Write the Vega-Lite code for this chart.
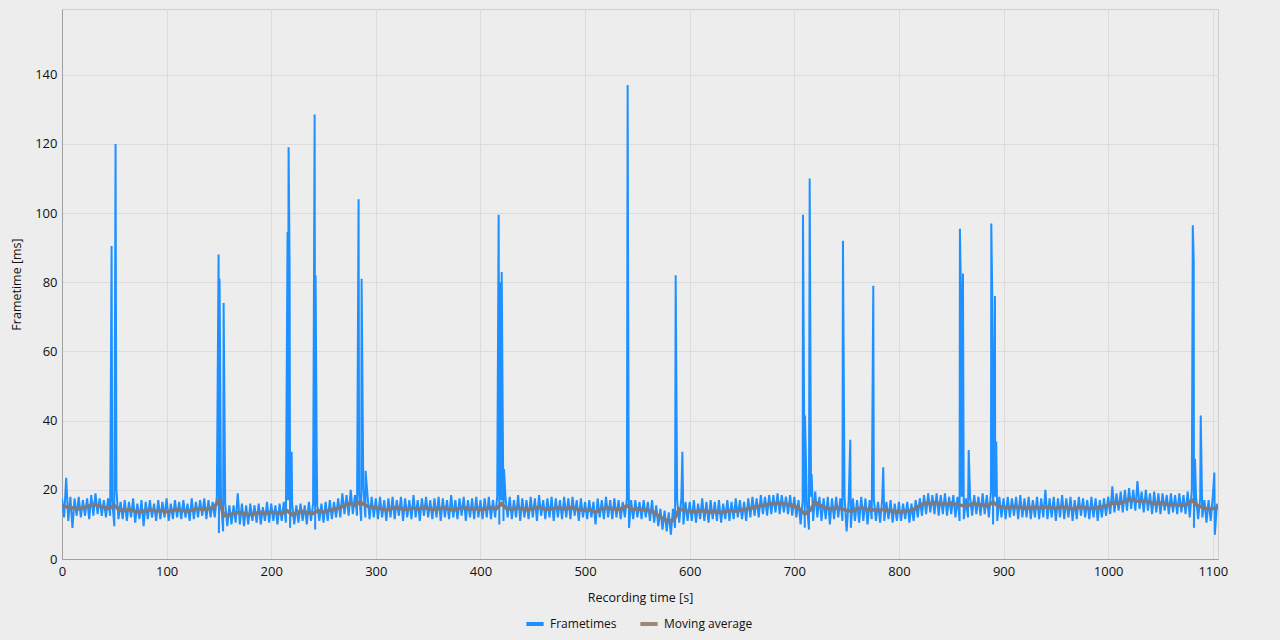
{
"$schema": "https://vega.github.io/schema/vega-lite/v6.json",
"width": 1156, "height": 550,
"autosize": {"type": "none"},
"padding": {"left": 62, "top": 9, "right": 62, "bottom": 81},
"background": "#ededed",
"config": {"font": "Open Sans", "view": {"stroke": "#cfcfcf", "fill": "#ededed"},
 "axis": {"gridColor": "#dcdcdc", "domainColor": "#a0a0a0", "tickSize": 0, "labelFontSize": 13, "labelColor": "#111111", "titleFontSize": 12.5, "titleFontWeight": "normal", "titleColor": "#111111"}},
"datasets": {
"ft": [
{"t":0,"v":17.5},{"t":2,"v":12},{"t":4,"v":23.5},{"t":6,"v":11},{"t":8,"v":18},{"t":10,"v":9},{"t":12,"v":17.5},{"t":14,"v":12.5},{"t":16,"v":18},{"t":18,"v":12},
{"t":20,"v":17},{"t":22,"v":12.5},{"t":24,"v":17.5},{"t":26,"v":11.5},{"t":28,"v":18.5},{"t":30,"v":12.5},{"t":32,"v":19},{"t":34,"v":13},{"t":36,"v":17.5},{"t":38,"v":12.5},
{"t":40,"v":17},{"t":42,"v":12},{"t":44,"v":17.5},{"t":46,"v":12.5},{"t":47.4,"v":90.5},{"t":48,"v":17},{"t":50,"v":9.5},{"t":51.2,"v":120},{"t":52,"v":20},{"t":54,"v":11.5},
{"t":56,"v":16.5},{"t":58,"v":11.5},{"t":60,"v":17},{"t":62,"v":11},{"t":64,"v":16.5},{"t":66,"v":12},{"t":68,"v":17.5},{"t":70,"v":10.5},{"t":72,"v":16},{"t":74,"v":11.5},
{"t":76,"v":17},{"t":78,"v":9.5},{"t":80,"v":16.5},{"t":82,"v":11.5},{"t":84,"v":17},{"t":86,"v":12},{"t":88,"v":16},{"t":90,"v":11},{"t":92,"v":17},{"t":94,"v":11.5},
{"t":96,"v":16.5},{"t":98,"v":12},{"t":100,"v":17.5},{"t":102,"v":11},{"t":104,"v":16},{"t":106,"v":11.5},{"t":108,"v":17},{"t":110,"v":12},{"t":112,"v":16.5},{"t":114,"v":11.5},
{"t":116,"v":17},{"t":118,"v":12},{"t":120,"v":16},{"t":122,"v":11},{"t":124,"v":17.5},{"t":126,"v":11.5},{"t":128,"v":16.5},{"t":130,"v":12},{"t":132,"v":17},{"t":134,"v":12.5},
{"t":136,"v":17.5},{"t":138,"v":11.5},{"t":140,"v":17},{"t":142,"v":12},{"t":144,"v":16.5},{"t":146,"v":12},{"t":148,"v":18},{"t":149.7,"v":88},{"t":150,"v":7.5},{"t":150.6,"v":81},
{"t":152,"v":17},{"t":154,"v":8},{"t":154.5,"v":74},{"t":156,"v":16},{"t":158,"v":9.5},{"t":160,"v":15.5},{"t":162,"v":10},{"t":164,"v":15.5},{"t":166,"v":10.5},{"t":168,"v":19},
{"t":170,"v":10},{"t":172,"v":16},{"t":174,"v":9.5},{"t":176,"v":15.5},{"t":178,"v":10},{"t":180,"v":16},{"t":182,"v":11},{"t":184,"v":15.5},{"t":186,"v":10.5},{"t":188,"v":16},
{"t":190,"v":10},{"t":192,"v":15},{"t":194,"v":11},{"t":196,"v":16.5},{"t":198,"v":10.5},{"t":200,"v":16},{"t":202,"v":11},{"t":204,"v":15.5},{"t":206,"v":10},{"t":208,"v":16},
{"t":210,"v":11},{"t":212,"v":16.5},{"t":214,"v":10.5},{"t":215.6,"v":94.5},{"t":216,"v":17},{"t":216.6,"v":119},{"t":217.6,"v":83},{"t":218,"v":9},{"t":219.5,"v":31},{"t":220,"v":16},
{"t":222,"v":10},{"t":224,"v":15.5},{"t":226,"v":10.5},{"t":228,"v":16},{"t":230,"v":11},{"t":232,"v":15.5},{"t":234,"v":10},{"t":236,"v":16.5},{"t":238,"v":11},{"t":240,"v":16},
{"t":241.5,"v":128.5},{"t":242,"v":8.5},{"t":242.4,"v":82},{"t":243.5,"v":29},{"t":244,"v":15.5},{"t":246,"v":11},{"t":248,"v":16},{"t":250,"v":10.5},{"t":252,"v":16.5},{"t":254,"v":11},
{"t":256,"v":17},{"t":258,"v":11.5},{"t":260,"v":16.5},{"t":262,"v":12},{"t":264,"v":17.5},{"t":266,"v":12},{"t":268,"v":19},{"t":270,"v":13},{"t":272,"v":18.5},{"t":274,"v":12.5},
{"t":276,"v":20},{"t":278,"v":13},{"t":280,"v":18.5},{"t":282,"v":12.5},{"t":283.5,"v":104},{"t":284,"v":19},{"t":286,"v":11},{"t":286.4,"v":81},{"t":288,"v":20.5},{"t":290,"v":12},
{"t":290.2,"v":25.5},{"t":292,"v":18.5},{"t":294,"v":11.5},{"t":296,"v":18},{"t":298,"v":12},{"t":300,"v":17.5},{"t":302,"v":11.5},{"t":304,"v":18},{"t":306,"v":12},{"t":308,"v":17},
{"t":310,"v":11},{"t":312,"v":17.5},{"t":314,"v":12},{"t":316,"v":18},{"t":318,"v":11.5},{"t":320,"v":17},{"t":322,"v":12.5},{"t":324,"v":18},{"t":326,"v":11},{"t":328,"v":17.5},
{"t":330,"v":12},{"t":332,"v":17},{"t":334,"v":11.5},{"t":336,"v":18.5},{"t":338,"v":12},{"t":340,"v":17},{"t":342,"v":11},{"t":344,"v":17.5},{"t":346,"v":12.5},{"t":348,"v":18},
{"t":350,"v":12},{"t":352,"v":17},{"t":354,"v":11.5},{"t":356,"v":17.5},{"t":358,"v":12},{"t":360,"v":18},{"t":362,"v":11},{"t":364,"v":17.5},{"t":366,"v":12},{"t":368,"v":17},
{"t":370,"v":11.5},{"t":372,"v":18.5},{"t":374,"v":12},{"t":376,"v":17},{"t":378,"v":11.5},{"t":380,"v":17.5},{"t":382,"v":12.5},{"t":384,"v":18},{"t":386,"v":11},{"t":388,"v":17},
{"t":390,"v":12},{"t":392,"v":17.5},{"t":394,"v":11.5},{"t":396,"v":18},{"t":398,"v":12},{"t":400,"v":17},{"t":402,"v":11.5},{"t":404,"v":17.5},{"t":406,"v":12},{"t":408,"v":18},
{"t":410,"v":11.5},{"t":412,"v":17},{"t":414,"v":12},{"t":416,"v":18},{"t":417.4,"v":99.5},{"t":418,"v":10},{"t":418.4,"v":80},{"t":420,"v":17},{"t":420.3,"v":83},{"t":422,"v":11},
{"t":422.5,"v":26},{"t":424,"v":17.5},{"t":426,"v":12},{"t":428,"v":18},{"t":430,"v":11.5},{"t":432,"v":17},{"t":434,"v":12},{"t":436,"v":18.5},{"t":438,"v":11},{"t":440,"v":17.5},
{"t":442,"v":12},{"t":444,"v":17},{"t":446,"v":11.5},{"t":448,"v":18},{"t":450,"v":12},{"t":452,"v":17.5},{"t":454,"v":11},{"t":456,"v":18.5},{"t":458,"v":12.5},{"t":460,"v":17},
{"t":462,"v":11.5},{"t":464,"v":17.5},{"t":466,"v":12},{"t":468,"v":18},{"t":470,"v":11},{"t":472,"v":17.5},{"t":474,"v":12},{"t":476,"v":17},{"t":478,"v":11.5},{"t":480,"v":18},
{"t":482,"v":12},{"t":484,"v":17.5},{"t":486,"v":11.5},{"t":488,"v":18},{"t":490,"v":12.5},{"t":492,"v":17},{"t":494,"v":11},{"t":496,"v":17.5},{"t":498,"v":12},{"t":500,"v":16.5},
{"t":502,"v":11.5},{"t":504,"v":17},{"t":506,"v":12},{"t":508,"v":16.5},{"t":510,"v":10},{"t":512,"v":17.5},{"t":514,"v":12},{"t":516,"v":17},{"t":518,"v":11.5},{"t":520,"v":18},
{"t":522,"v":12},{"t":524,"v":17},{"t":526,"v":11.5},{"t":528,"v":17.5},{"t":530,"v":12},{"t":532,"v":17},{"t":534,"v":11.5},{"t":536,"v":16.5},{"t":538,"v":12},{"t":540,"v":17.5},
{"t":540.7,"v":137},{"t":541.6,"v":29},{"t":542,"v":9},{"t":544,"v":17},{"t":546,"v":11.5},{"t":548,"v":17},{"t":550,"v":12},{"t":552,"v":16.5},{"t":554,"v":11.5},{"t":556,"v":17},
{"t":558,"v":12},{"t":560,"v":16.5},{"t":562,"v":11},{"t":564,"v":17},{"t":566,"v":10.5},{"t":568,"v":15.5},{"t":570,"v":9.5},{"t":572,"v":14.5},{"t":574,"v":8.5},{"t":576,"v":14},
{"t":578,"v":8},{"t":580,"v":13.5},{"t":582,"v":7},{"t":584,"v":14.5},{"t":586,"v":9},{"t":586.6,"v":82},{"t":588,"v":17},{"t":590,"v":10.5},{"t":592,"v":17.5},{"t":593,"v":31},
{"t":594,"v":10},{"t":596,"v":16.5},{"t":598,"v":11},{"t":600,"v":16.5},{"t":602,"v":11},{"t":604,"v":17},{"t":606,"v":10.5},{"t":608,"v":16},{"t":610,"v":11.5},{"t":612,"v":17.5},
{"t":614,"v":11},{"t":616,"v":16.5},{"t":618,"v":10.5},{"t":620,"v":17},{"t":622,"v":11.5},{"t":624,"v":16.5},{"t":626,"v":11},{"t":628,"v":17},{"t":630,"v":10.5},{"t":632,"v":16},
{"t":634,"v":11.5},{"t":636,"v":17},{"t":638,"v":11},{"t":640,"v":16.5},{"t":642,"v":11.5},{"t":644,"v":17.5},{"t":646,"v":12},{"t":648,"v":17},{"t":650,"v":11.5},{"t":652,"v":16.5},
{"t":654,"v":11},{"t":656,"v":17.5},{"t":658,"v":12},{"t":660,"v":18},{"t":662,"v":12.5},{"t":664,"v":17.5},{"t":666,"v":12},{"t":668,"v":18.5},{"t":670,"v":13},{"t":672,"v":18},
{"t":674,"v":12.5},{"t":676,"v":18.5},{"t":678,"v":13},{"t":680,"v":18.5},{"t":682,"v":13.5},{"t":684,"v":19},{"t":686,"v":13},{"t":688,"v":18.5},{"t":690,"v":13.5},{"t":692,"v":18},
{"t":694,"v":13},{"t":696,"v":18.5},{"t":698,"v":12.5},{"t":700,"v":18},{"t":702,"v":12},{"t":704,"v":17},{"t":706,"v":10},{"t":708,"v":17},{"t":708.3,"v":99.5},{"t":710,"v":9},
{"t":710.2,"v":41.5},{"t":712,"v":16},{"t":714,"v":8.5},{"t":714.7,"v":110},{"t":716,"v":18},{"t":716.6,"v":24.5},{"t":718,"v":11},{"t":720,"v":19.5},{"t":722,"v":12},{"t":724,"v":18},
{"t":726,"v":11},{"t":728,"v":17.5},{"t":730,"v":11.5},{"t":732,"v":18},{"t":734,"v":10},{"t":736,"v":17.5},{"t":738,"v":11.5},{"t":740,"v":18},{"t":742,"v":12},{"t":744,"v":17.5},
{"t":746,"v":11},{"t":746.5,"v":92},{"t":748,"v":18},{"t":750,"v":8},{"t":752,"v":17},{"t":753.5,"v":34.5},{"t":754,"v":9},{"t":756,"v":17.5},{"t":758,"v":11},{"t":760,"v":17},
{"t":762,"v":10.5},{"t":764,"v":18},{"t":766,"v":11},{"t":768,"v":17.5},{"t":770,"v":10},{"t":772,"v":17},{"t":774,"v":11.5},{"t":775.5,"v":79},{"t":776,"v":17.5},{"t":778,"v":11},
{"t":780,"v":16.5},{"t":782,"v":10.5},{"t":784,"v":17},{"t":785,"v":26.5},{"t":786,"v":11},{"t":788,"v":16.5},{"t":790,"v":11.5},{"t":792,"v":17},{"t":794,"v":10.5},{"t":796,"v":16},
{"t":798,"v":11},{"t":800,"v":16.5},{"t":802,"v":11},{"t":804,"v":16},{"t":806,"v":11.5},{"t":808,"v":16.5},{"t":810,"v":10.5},{"t":812,"v":16},{"t":814,"v":11},{"t":816,"v":17},
{"t":818,"v":12},{"t":820,"v":17.5},{"t":822,"v":12.5},{"t":824,"v":18.5},{"t":826,"v":13},{"t":828,"v":19},{"t":830,"v":13.5},{"t":832,"v":18.5},{"t":834,"v":13},{"t":836,"v":19},
{"t":838,"v":12.5},{"t":840,"v":18.5},{"t":842,"v":13},{"t":844,"v":19},{"t":846,"v":12.5},{"t":848,"v":18},{"t":850,"v":13},{"t":852,"v":18.5},{"t":854,"v":12},{"t":856,"v":18},
{"t":858,"v":11},{"t":858.3,"v":95.5},{"t":859.3,"v":76},{"t":860,"v":18},{"t":861.2,"v":82.5},{"t":862,"v":11.5},{"t":864,"v":17.5},{"t":866,"v":12},{"t":866.7,"v":31.5},{"t":868,"v":18},
{"t":870,"v":12.5},{"t":872,"v":18.5},{"t":874,"v":13},{"t":876,"v":18},{"t":878,"v":12.5},{"t":880,"v":19},{"t":882,"v":13},{"t":884,"v":18.5},{"t":886,"v":12},{"t":888,"v":19.5},
{"t":888.3,"v":97},{"t":889.2,"v":76},{"t":890,"v":10},{"t":890.9,"v":46},{"t":891.8,"v":76},{"t":892,"v":18},{"t":893,"v":34},{"t":894,"v":11},{"t":896,"v":18},{"t":898,"v":12},
{"t":900,"v":17.5},{"t":902,"v":11.5},{"t":904,"v":18},{"t":906,"v":12},{"t":908,"v":17.5},{"t":910,"v":12.5},{"t":912,"v":18},{"t":914,"v":11.5},{"t":916,"v":18.5},{"t":918,"v":12},
{"t":920,"v":17.5},{"t":922,"v":12},{"t":924,"v":18},{"t":926,"v":11.5},{"t":928,"v":17},{"t":930,"v":12},{"t":932,"v":18},{"t":934,"v":11.5},{"t":936,"v":17.5},{"t":938,"v":12},
{"t":940,"v":20},{"t":942,"v":11.5},{"t":944,"v":17.5},{"t":946,"v":12},{"t":948,"v":18},{"t":950,"v":11},{"t":952,"v":17.5},{"t":954,"v":12},{"t":956,"v":18.5},{"t":958,"v":11.5},
{"t":960,"v":17.5},{"t":962,"v":12},{"t":964,"v":18},{"t":966,"v":11},{"t":968,"v":17},{"t":970,"v":11.5},{"t":972,"v":18},{"t":974,"v":12.5},{"t":976,"v":17.5},{"t":978,"v":12},
{"t":980,"v":17},{"t":982,"v":11.5},{"t":984,"v":18},{"t":986,"v":12},{"t":988,"v":17.5},{"t":990,"v":11},{"t":992,"v":17},{"t":994,"v":12},{"t":996,"v":17.5},{"t":998,"v":12.5},
{"t":1000,"v":18},{"t":1002,"v":13},{"t":1004,"v":21},{"t":1006,"v":13.5},{"t":1008,"v":19},{"t":1010,"v":14},{"t":1012,"v":19.5},{"t":1014,"v":13.5},{"t":1016,"v":20},{"t":1018,"v":14},
{"t":1020,"v":20.5},{"t":1022,"v":14.5},{"t":1024,"v":20},{"t":1026,"v":14},{"t":1028,"v":22.5},{"t":1030,"v":14.5},{"t":1032,"v":19.5},{"t":1034,"v":13.5},{"t":1036,"v":20},{"t":1038,"v":14},
{"t":1040,"v":19},{"t":1042,"v":13},{"t":1044,"v":19.5},{"t":1046,"v":13.5},{"t":1048,"v":19},{"t":1050,"v":13},{"t":1052,"v":19},{"t":1054,"v":14},{"t":1056,"v":18.5},{"t":1058,"v":13},
{"t":1060,"v":19},{"t":1062,"v":13.5},{"t":1064,"v":18.5},{"t":1066,"v":13},{"t":1068,"v":19},{"t":1070,"v":13.5},{"t":1072,"v":18.5},{"t":1074,"v":13},{"t":1076,"v":19.5},{"t":1078,"v":12},
{"t":1080,"v":20},{"t":1080.9,"v":96.5},{"t":1081.8,"v":86},{"t":1082,"v":9},{"t":1083,"v":29},{"t":1084,"v":18},{"t":1086,"v":11.5},{"t":1088,"v":17.5},{"t":1088.5,"v":41.5},{"t":1090,"v":12},
{"t":1092,"v":17},{"t":1094,"v":10.5},{"t":1096,"v":17},{"t":1098,"v":11},{"t":1100,"v":18},{"t":1101.5,"v":25},{"t":1102,"v":7},{"t":1104,"v":16}
],
"ma": [
{"t":0,"v":15.5},{"t":5,"v":15},{"t":10,"v":14.8},{"t":15,"v":14.5},{"t":20,"v":14.8},{"t":25,"v":15.2},{"t":30,"v":15.8},{"t":35,"v":15.4},{"t":40,"v":15},{"t":45,"v":14.6},
{"t":50,"v":15.5},{"t":55,"v":14.2},{"t":60,"v":14},{"t":65,"v":14.3},{"t":70,"v":13.8},{"t":75,"v":13.6},{"t":80,"v":14},{"t":85,"v":14.2},{"t":90,"v":13.8},{"t":95,"v":14},
{"t":100,"v":13.7},{"t":105,"v":14},{"t":110,"v":14.3},{"t":115,"v":14},{"t":120,"v":13.8},{"t":125,"v":14.2},{"t":130,"v":14.5},{"t":135,"v":14.3},{"t":140,"v":14.6},{"t":145,"v":14.8},
{"t":150,"v":17},{"t":155,"v":12.5},{"t":160,"v":12.8},{"t":165,"v":13.2},{"t":170,"v":13.5},{"t":175,"v":13},{"t":180,"v":12.8},{"t":185,"v":13.2},{"t":190,"v":13.5},{"t":195,"v":13.2},
{"t":200,"v":13.6},{"t":205,"v":13.4},{"t":210,"v":13.2},{"t":215,"v":14},{"t":220,"v":12.8},{"t":225,"v":13.5},{"t":230,"v":13.7},{"t":235,"v":13.4},{"t":240,"v":13.2},{"t":245,"v":14},
{"t":250,"v":13.6},{"t":255,"v":14},{"t":260,"v":14.3},{"t":265,"v":14.8},{"t":270,"v":15.5},{"t":275,"v":16},{"t":280,"v":15.6},{"t":285,"v":16.5},{"t":290,"v":15.5},{"t":295,"v":15},
{"t":300,"v":14.8},{"t":305,"v":14.5},{"t":310,"v":14.2},{"t":315,"v":14.6},{"t":320,"v":14.8},{"t":325,"v":14.5},{"t":330,"v":14.3},{"t":335,"v":14.7},{"t":340,"v":14.4},{"t":345,"v":14.8},
{"t":350,"v":14.6},{"t":355,"v":14.3},{"t":360,"v":14.5},{"t":365,"v":14.8},{"t":370,"v":14.4},{"t":375,"v":14.2},{"t":380,"v":14.6},{"t":385,"v":14.8},{"t":390,"v":14.4},{"t":395,"v":14.6},
{"t":400,"v":14.3},{"t":405,"v":14.5},{"t":410,"v":14.8},{"t":415,"v":14.5},{"t":420,"v":16},{"t":425,"v":14.6},{"t":430,"v":14.4},{"t":435,"v":14.8},{"t":440,"v":14.5},{"t":445,"v":14.2},
{"t":450,"v":14.6},{"t":455,"v":14.9},{"t":460,"v":14.5},{"t":465,"v":14.3},{"t":470,"v":14.6},{"t":475,"v":14.8},{"t":480,"v":14.5},{"t":485,"v":14.8},{"t":490,"v":14.6},{"t":495,"v":14.2},
{"t":500,"v":14},{"t":505,"v":14.2},{"t":510,"v":13.5},{"t":515,"v":14.4},{"t":520,"v":14.8},{"t":525,"v":14.6},{"t":530,"v":14.3},{"t":535,"v":14.5},{"t":540,"v":15.5},{"t":545,"v":14.2},
{"t":550,"v":14.5},{"t":555,"v":14.3},{"t":560,"v":14},{"t":565,"v":13.6},{"t":570,"v":12.5},{"t":575,"v":11.5},{"t":580,"v":11},{"t":585,"v":11.2},{"t":590,"v":14.5},{"t":595,"v":14},
{"t":600,"v":13.8},{"t":605,"v":13.6},{"t":610,"v":14},{"t":615,"v":13.8},{"t":620,"v":13.5},{"t":625,"v":13.7},{"t":630,"v":13.4},{"t":635,"v":13.8},{"t":640,"v":14},{"t":645,"v":13.8},
{"t":650,"v":14.2},{"t":655,"v":14.5},{"t":660,"v":14.8},{"t":665,"v":15.2},{"t":670,"v":15.5},{"t":675,"v":15.8},{"t":680,"v":16},{"t":685,"v":16.2},{"t":690,"v":16},{"t":695,"v":15.6},
{"t":700,"v":15.4},{"t":705,"v":14.5},{"t":710,"v":13},{"t":715,"v":14},{"t":720,"v":16.5},{"t":725,"v":15.5},{"t":730,"v":14.8},{"t":735,"v":14.5},{"t":740,"v":14.8},{"t":745,"v":14.6},
{"t":750,"v":14},{"t":755,"v":13.8},{"t":760,"v":14.5},{"t":765,"v":14.8},{"t":770,"v":14.3},{"t":775,"v":14.2},{"t":780,"v":14},{"t":785,"v":14.4},{"t":790,"v":14},{"t":795,"v":13.8},
{"t":800,"v":13.6},{"t":805,"v":13.8},{"t":810,"v":14},{"t":815,"v":14.5},{"t":820,"v":15.5},{"t":825,"v":16.2},{"t":830,"v":16},{"t":835,"v":16.3},{"t":840,"v":16},{"t":845,"v":15.8},
{"t":850,"v":16.2},{"t":855,"v":15.8},{"t":860,"v":15.5},{"t":865,"v":15.2},{"t":870,"v":16},{"t":875,"v":15.8},{"t":880,"v":15.6},{"t":885,"v":15.3},{"t":890,"v":16.5},{"t":895,"v":15.2},
{"t":900,"v":15},{"t":905,"v":14.8},{"t":910,"v":15.2},{"t":915,"v":15},{"t":920,"v":14.6},{"t":925,"v":14.8},{"t":930,"v":15},{"t":935,"v":14.7},{"t":940,"v":15},{"t":945,"v":14.8},
{"t":950,"v":14.6},{"t":955,"v":15},{"t":960,"v":14.8},{"t":965,"v":14.5},{"t":970,"v":14.8},{"t":975,"v":15},{"t":980,"v":14.7},{"t":985,"v":14.6},{"t":990,"v":14.9},{"t":995,"v":15.2},
{"t":1000,"v":15.5},{"t":1005,"v":16.3},{"t":1010,"v":16},{"t":1015,"v":16.5},{"t":1020,"v":17.2},{"t":1025,"v":17},{"t":1030,"v":16.6},{"t":1035,"v":16.8},{"t":1040,"v":16.3},{"t":1045,"v":16},
{"t":1050,"v":16.2},{"t":1055,"v":15.8},{"t":1060,"v":15.6},{"t":1065,"v":15.8},{"t":1070,"v":15.5},{"t":1075,"v":15.7},{"t":1080,"v":17},{"t":1085,"v":15.5},{"t":1090,"v":15},{"t":1095,"v":14.5},
{"t":1100,"v":14.6},{"t":1105,"v":14.8}
]
},
"encoding": {
 "x": {"field": "t", "type": "quantitative", "scale": {"domain": [0, 1105], "nice": false, "zero": false},
  "axis": {"title": "Recording time [s]", "format": "d", "values": [0,100,200,300,400,500,600,700,800,900,1000,1100], "labelPadding": 6, "titlePadding": 13, "labelFlush": false}},
 "y": {"field": "v", "type": "quantitative", "scale": {"domain": [0, 159], "nice": false},
  "axis": {"title": "Frametime [ms]", "values": [0,20,40,60,80,100,120,140], "labelPadding": 5, "titlePadding": 11}}
},
"layer": [
 {"data": {"name": "ft"}, "mark": {"type": "line", "strokeWidth": 2, "clip": true},
  "encoding": {"color": {"datum": "Frametimes", "type": "nominal",
   "scale": {"domain": ["Frametimes", "Moving average"], "range": ["#1e90ff", "#9e857d"]},
   "legend": {"title": null, "orient": "none", "legendX": 462, "legendY": 604, "direction": "horizontal",
    "labelFontSize": 12, "labelColor": "#111111", "symbolType": "stroke", "symbolSize": 300, "symbolStrokeWidth": 4, "columnPadding": 15, "labelOffset": 4}}}},
 {"data": {"name": "ma"}, "transform": [{"filter": "datum.t < 0"}], "mark": {"type": "line", "strokeWidth": 3.5},
  "encoding": {"color": {"datum": "Moving average", "type": "nominal"}}},
 {"data": {"name": "ma"}, "mark": {"type": "line", "strokeWidth": 3.5, "clip": true, "color": "#7c7a7e"}}
]
}
